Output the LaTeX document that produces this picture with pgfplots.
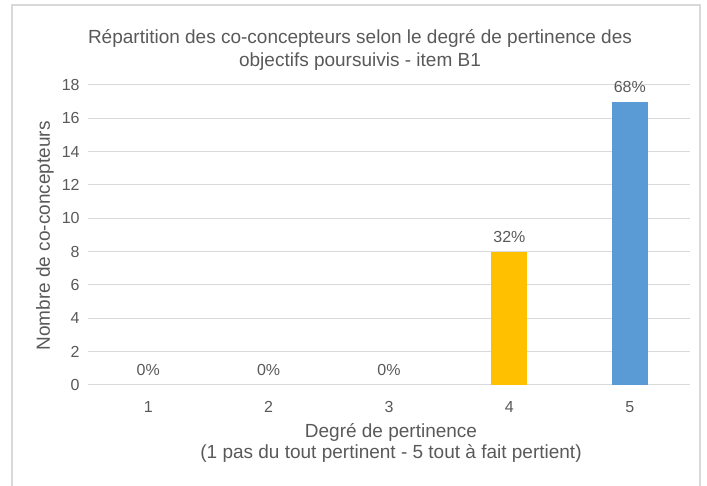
\documentclass[border=0pt]{standalone}
\usepackage{fontspec}
\setmainfont{Liberation Sans}
\usepackage{pgfplots}
\pgfplotsset{compat=1.18}
\definecolor{txt}{HTML}{595959}
\definecolor{gridc}{HTML}{D9D9D9}
\definecolor{barYellow}{HTML}{FFC000}
\definecolor{barBlue}{HTML}{5B9BD5}

\begin{document}
\begin{tikzpicture}[x=0.5pt,y=0.5pt]
  % page = 707 x 486 px, 1 px = 0.5pt
  \path[use as bounding box] (0,0) rectangle (707,486);
  \draw[gridc, line width=0.6pt] (12,-2) -- (12,481) -- (700,481) -- (700,-2);
  \coordinate (O) at (88,101);

  \begin{axis}[
    at={(O)}, anchor=south west,
    scale only axis,
    width=301pt, height=150pt,
    ybar, bar width=18pt, bar shift=0pt,
    xmin=0.5, xmax=5.5,
    ymin=0, ymax=18,
    xtick={1,2,3,4,5},
    ytick={0,2,...,18},
    axis line style={draw=none},
    major tick length=0pt,
    ymajorgrids,
    grid style={gridc, line width=0.5pt},
    tick label style={font=\fontsize{8}{9}\selectfont, text=txt},
    /pgf/number format/assume math mode=true,
    xticklabel style={anchor=north, inner sep=0pt, yshift=-8pt},
    yticklabel style={anchor=east, inner sep=0pt, xshift=-4pt},
    point meta=explicit symbolic,
    nodes near coords={\pgfplotspointmeta},
    nodes near coords style={font=\fontsize{8}{9}\selectfont, text=txt,
      anchor=south, inner sep=0pt, yshift=4.5pt},
    clip=false,
  ]
  % effectifs par degre de pertinence
  \addplot[fill=none, draw=none] coordinates {(1,0) [0\%] (2,0) [0\%] (3,0) [0\%]};
  \addplot[fill=barYellow, draw=none] coordinates {(4,8) [32\%]};
  \addplot[fill=barBlue, draw=none] coordinates {(5,17) [68\%]};
  \end{axis}

  \node[text=txt, font=\fontsize{9.5}{10}\selectfont, align=center, inner sep=0pt]
    at (360,436) {R\'epartition des co-concepteurs selon le degr\'e de pertinence des\\[1.2pt]
    objectifs poursuivis - item B1};
  \node[text=txt, font=\fontsize{9.5}{10}\selectfont, align=center, inner sep=0pt]
    at (391,43) {Degr\'e de pertinence\\[0.6pt] (1 pas du tout pertinent - 5 tout \`a fait pertient)};
  \node[text=txt, font=\fontsize{9.5}{10}\selectfont, rotate=90, inner sep=0pt]
    at (45,250) {Nombre de co-concepteurs};
\end{tikzpicture}
\end{document}
